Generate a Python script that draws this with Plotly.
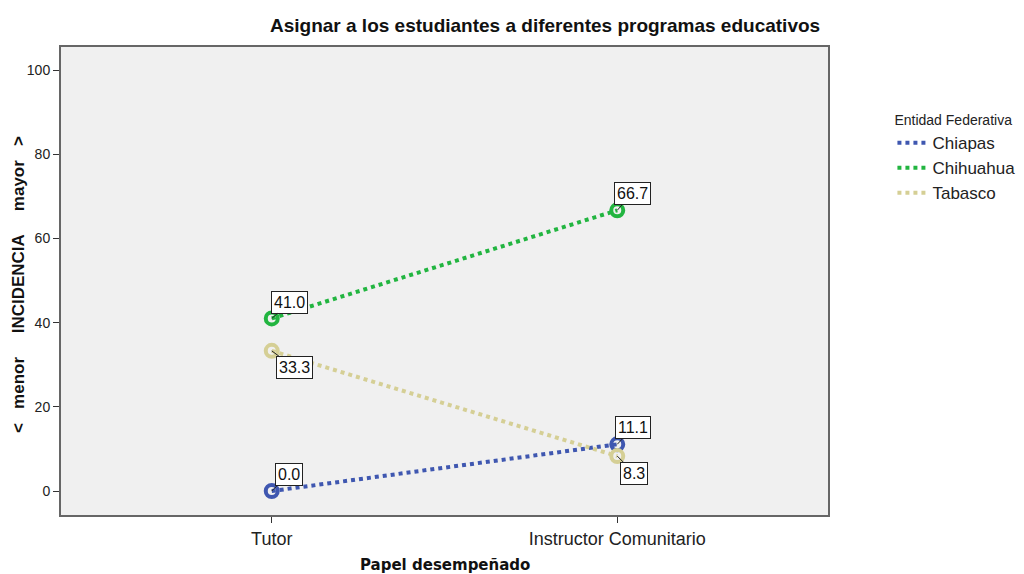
import plotly.graph_objects as go

categories = ["Tutor", "Instructor Comunitario"]
series_names = ["Chiapas", "Chihuahua", "Tabasco"]
chiapas = [0.0, 11.1]
chihuahua = [41.0, 66.7]
tabasco = [33.3, 8.3]
series_values = [chiapas, chihuahua, tabasco]
colors = ["#3F57B0", "#22B540", "#D5CF95"]
# label offsets (pixels) per series per point
label_offsets = [[(17, -17), (16, -17)], [(18, -16), (15, -17)], [(23, 17), (17, 17)]]
y_ticks = [0, 20, 40, 60, 80, 100]

fig = go.Figure()
xs = list(range(len(categories)))
for name, vals, col in zip(series_names, series_values, colors):
    fig.add_trace(go.Scatter(
        x=xs, y=vals, mode="lines", showlegend=False,
        line=dict(color=col, width=4, dash="dot"),
    ))
for name, vals, col in zip(series_names, series_values, colors):
    fig.add_trace(go.Scatter(
        x=xs, y=vals, mode="markers", showlegend=False,
        marker=dict(symbol="circle-open", size=12, color=col, line=dict(width=4, color=col)),
    ))
for name, col in zip(series_names, colors):
    fig.add_trace(go.Scatter(
        x=[None], y=[None], mode="lines", name=name,
        line=dict(color=col, width=4, dash="dot"),
    ))

for vals, offs in zip(series_values, label_offsets):
    for i, (v, (ax, ay)) in enumerate(zip(vals, offs)):
        fig.add_annotation(
            x=xs[i], y=v, xref="x", yref="y", text=f"{v:.1f}",
            showarrow=True, arrowhead=0, arrowwidth=1, arrowcolor="#222",
            ax=ax, ay=ay, standoff=0,
            bgcolor="white", bordercolor="#222", borderwidth=1, borderpad=2,
            font=dict(family="Liberation Sans, Arial", size=16, color="#111"),
        )

fig.add_annotation(
    text="<b>Asignar a los estudiantes a diferentes programas educativos</b>",
    xref="paper", yref="paper", x=(545 - 61) / 767, y=1.0, yshift=22,
    xanchor="center", yanchor="middle", showarrow=False,
    font=dict(family="Liberation Sans, Arial", size=19, color="#111"),
)
fig.add_annotation(
    text="<b>Papel desempeñado</b>",
    xref="paper", yref="paper", x=(445 - 61) / 767, y=0, yshift=-50,
    xanchor="center", yanchor="middle", showarrow=False,
    font=dict(family="DejaVu Sans, Verdana", size=15, color="#111"),
)
fig.add_annotation(
    text="<b>&lt;   menor     INCIDENCIA     mayor   &gt;</b>",
    xref="paper", yref="paper", x=0, xshift=-43, y=0.5, yshift=-4,
    xanchor="center", yanchor="middle", showarrow=False, textangle=-90,
    font=dict(family="Liberation Sans, Arial", size=17, color="#111"),
)

fig.update_layout(
    width=1016, height=566,
    margin=dict(l=53, r=196, t=39, b=59, autoexpand=False),
    paper_bgcolor="white", plot_bgcolor="#F0F0F0",
    font=dict(family="Liberation Sans, Arial", color="#222"),
    legend=dict(
        x=1.084, y=0.872, xanchor="left", yanchor="top",
        title=dict(text="Entidad Federativa", font=dict(size=14, color="#222")),
        font=dict(size=17, color="#222"), itemwidth=30, tracegroupgap=0,
    ),
)
fig.update_xaxes(
    range=[-0.61, 1.61], tickvals=xs, ticktext=categories,
    showgrid=False, zeroline=False, showline=True, mirror=True,
    linecolor="#666", linewidth=2, ticks="outside", ticklen=6, tickcolor="#333",
    tickfont=dict(size=18, color="#222"),
)
fig.update_yaxes(
    range=[-5.7, 105.5], tickvals=y_ticks,
    showgrid=False, zeroline=False, showline=True, mirror=True,
    linecolor="#666", linewidth=2, ticks="outside", ticklen=6, tickcolor="#333",
    tickfont=dict(size=14, color="#222"),
)

fig.write_html("out.html")
